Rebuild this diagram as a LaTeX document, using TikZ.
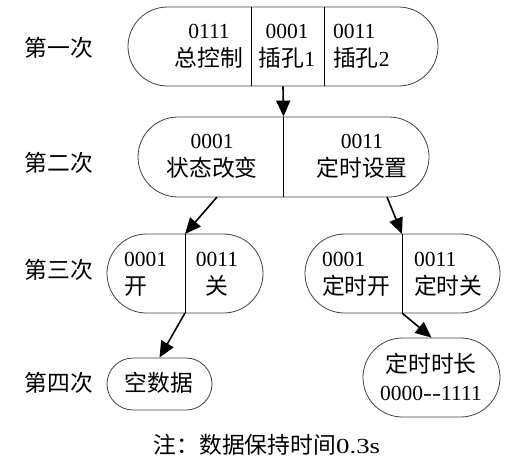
\documentclass[tikz,border=0pt]{standalone}
\usepackage{fontspec}
\setmainfont{Liberation Serif}
\newfontfamily\cjk[Scale=1.06]{Noto Sans CJK SC}
\newfontfamily\widerm[FakeStretch=1.25]{Liberation Serif}
\usetikzlibrary{shapes.misc,arrows.meta}
\tikzset{
  stadium/.style={rounded rectangle, draw=black!75, line width=0.8pt, inner sep=0pt},
  txt/.style={inner sep=0pt, align=center, font=\fontsize{21.5}{28}\selectfont},
  txtl/.style={inner sep=0pt, align=left, anchor=west, font=\fontsize{21.5}{28}\selectfont},
  divider/.style={line width=0.9pt},
  arr/.style={line width=1.6pt, -{Triangle[length=16pt,width=14pt]}}
}
\begin{document}
\begin{tikzpicture}[x=1pt,y=-1pt]
\useasboundingbox (0,0) rectangle (523,464);
% row labels
\node[txt] (l1) at (59,48) {\cjk 第一次};
\node[txt] (l2) at (59,163) {\cjk 第二次};
\node[txt] (l3) at (59,270) {\cjk 第三次};
\node[txt] (l4) at (59,383) {\cjk 第四次};
% boxes
\node[stadium, minimum width=310pt, minimum height=79pt] (b1) at (283,46.5) {};
\node[stadium, minimum width=291pt, minimum height=80pt] (b2) at (283.5,157) {};
\node[stadium, minimum width=156pt, minimum height=79pt] (b3l) at (185,273.5) {};
\node[stadium, minimum width=195pt, minimum height=79pt] (b3r) at (402.5,273.5) {};
\node[stadium, minimum width=105pt, minimum height=52pt] (b4l) at (159.5,384) {};
\node[stadium, minimum width=137pt, minimum height=79pt] (b4r) at (431.5,377.5) {};
% dividers
\coordinate (d1a) at (251,7);   \coordinate (d1b) at (251,86);
\coordinate (d1c) at (324,7);   \coordinate (d1d) at (324,86);
\coordinate (d2a) at (283,117); \coordinate (d2b) at (283,197);
\coordinate (d3a) at (185,234); \coordinate (d3b) at (185,313);
\coordinate (d4a) at (402,234); \coordinate (d4b) at (402,313);
\draw[divider] (d1a) -- (d1b);
\draw[divider] (d1c) -- (d1d);
\draw[divider] (d2a) -- (d2b);
\draw[divider] (d3a) -- (d3b);
\draw[divider] (d4a) -- (d4b);
% texts
\node[txt] (t1a) at (209,46) {0111\\\cjk 总控制};
\node[txt] (t1b) at (287,46) {0001\\\cjk 插孔\rmfamily 1};
\node[txtl] (t1c) at (333,46) {0011\\\cjk 插孔\rmfamily 2};
\node[txt] (t2a) at (212,156) {0001\\\cjk 状态改变};
\node[txt] (t2b) at (362,156) {0011\\\cjk 定时设置};
\node[txtl] (t3a) at (124,274) {0001\\\cjk 开};
\node[txt] (t3b) at (217,274) {0011\\\cjk 关};
\node[txtl] (t3c) at (322,274) {0001\\\cjk 定时开};
\node[txtl] (t3d) at (414,274) {0011\\\cjk 定时关};
\node[txt] (t4a) at (159,383) {\cjk 空数据};
\node[txt] (t4b) at (431,377) {{\cjk 定时时长}\\0000{\widerm -{}-}1111};
\node[txt] (note) at (267,445) {{\cjk 注：数据保持时间}{\widerm 0.3s}};
% arrows
\coordinate (s2) at (217,197);
\coordinate (s3) at (387,197);
\draw[arr] (b1.south) -- (b2.north);
\draw[arr] (s2) -- (d3a);
\draw[arr] (s3) -- (d4a);
\draw[arr] (d3b) -- (b4l.north);
\draw[arr] (d4b) -- (b4r.north);
\end{tikzpicture}
\end{document}
